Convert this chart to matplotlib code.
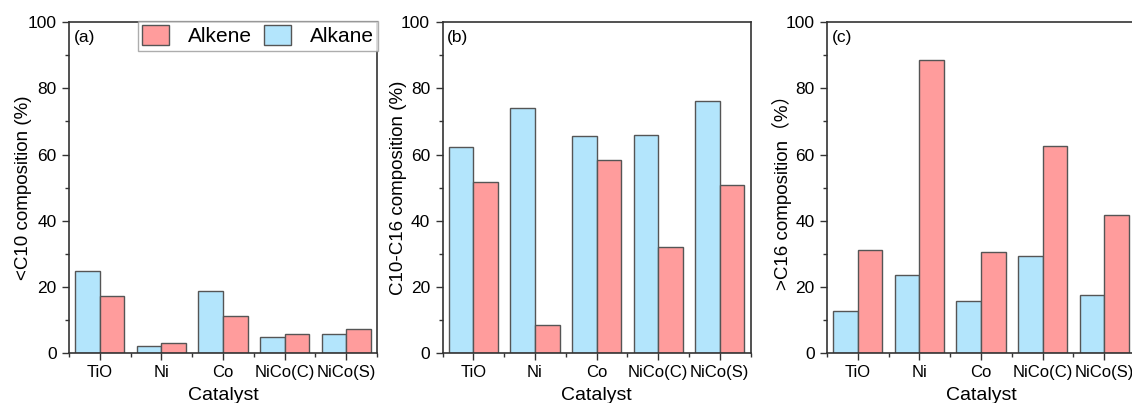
import matplotlib
matplotlib.use('Agg')
import matplotlib.pyplot as plt
import numpy as np
from matplotlib.ticker import MultipleLocator

plt.rcParams['font.family'] = ['Liberation Sans', 'Noto Sans CJK SC']

# catalyst groups and composition values (%)
catalysts = ['TiO', 'Ni', 'Co', 'NiCo(C)', 'NiCo(S)']

alkane_lt10 = [24.7, 2.2, 18.6, 4.7, 5.9]
alkene_lt10 = [17.2, 3.0, 11.2, 5.6, 7.4]

alkane_mid = [62.3, 74.0, 65.6, 66.0, 76.3]
alkene_mid = [51.8, 8.4, 58.4, 32.1, 50.9]

alkane_gt16 = [12.8, 23.6, 15.7, 29.2, 17.6]
alkene_gt16 = [31.1, 88.7, 30.5, 62.6, 41.8]

panels = [
    ('(a)', '<C10 composition (%)', alkane_lt10, alkene_lt10),
    ('(b)', 'C10-C16 composition (%)', alkane_mid, alkene_mid),
    ('(c)', '>C16 composition\uff08%\uff09', alkane_gt16, alkene_gt16),
]

blue = '#b3e5fc'
red = '#ff9c9c'
edge = '#555555'

fig = plt.figure(figsize=(11.32, 4.03), dpi=100)
lefts = [0.061, 0.391, 0.7306]
ylab_x = [-0.12, -0.117, -0.114]
x = np.arange(1, len(catalysts) + 1)
w = 0.4

for i, (tag, ylab, alk, alke) in enumerate(panels):
    ax = fig.add_axes([lefts[i], 0.124, 0.272, 0.821])
    h_alkane = ax.bar(x - w / 2, alk, width=w, color=blue, edgecolor=edge, linewidth=1)
    h_alkene = ax.bar(x + w / 2, alke, width=w, color=red, edgecolor=edge, linewidth=1)

    ax.set_xlim(0.5, 5.5)
    ax.set_ylim(0, 100)
    ax.set_xticks(x)
    ax.set_xticklabels(catalysts, fontsize=12)
    ax.xaxis.set_minor_locator(MultipleLocator(1, offset=0.5))
    ax.yaxis.set_major_locator(MultipleLocator(20))
    ax.yaxis.set_minor_locator(MultipleLocator(10))
    ax.tick_params(axis='y', labelsize=12.5, length=5, width=1, color='#333333', pad=4)
    ax.tick_params(axis='x', length=5, width=1, color='#333333')
    ax.tick_params(which='minor', length=3, width=1, color='#333333')
    for s in ax.spines.values():
        s.set_color('#333333')
        s.set_linewidth(1.2)

    ax.set_ylabel(ylab, fontsize=13.5)
    ax.yaxis.set_label_coords(ylab_x[i], 0.5)
    ax.set_xlabel('Catalyst', fontsize=14, labelpad=5)
    ax.text(0.015, 0.975, tag, transform=ax.transAxes, fontsize=12.5, va='top', ha='left')

    if i == 0:
        lgd = ax.legend([h_alkene, h_alkane], ['Alkene', 'Alkane'], ncol=2,
                        loc='upper right', bbox_to_anchor=(1.004, 1.003),
                        fontsize=15, frameon=True, fancybox=False,
                        edgecolor='#999999', handlelength=1.3, handleheight=1.1,
                        columnspacing=0.6, handletextpad=0.9, borderpad=0.2,
                        borderaxespad=0)
        lgd.get_frame().set_linewidth(1)

plt.savefig('out.png', dpi=100)
